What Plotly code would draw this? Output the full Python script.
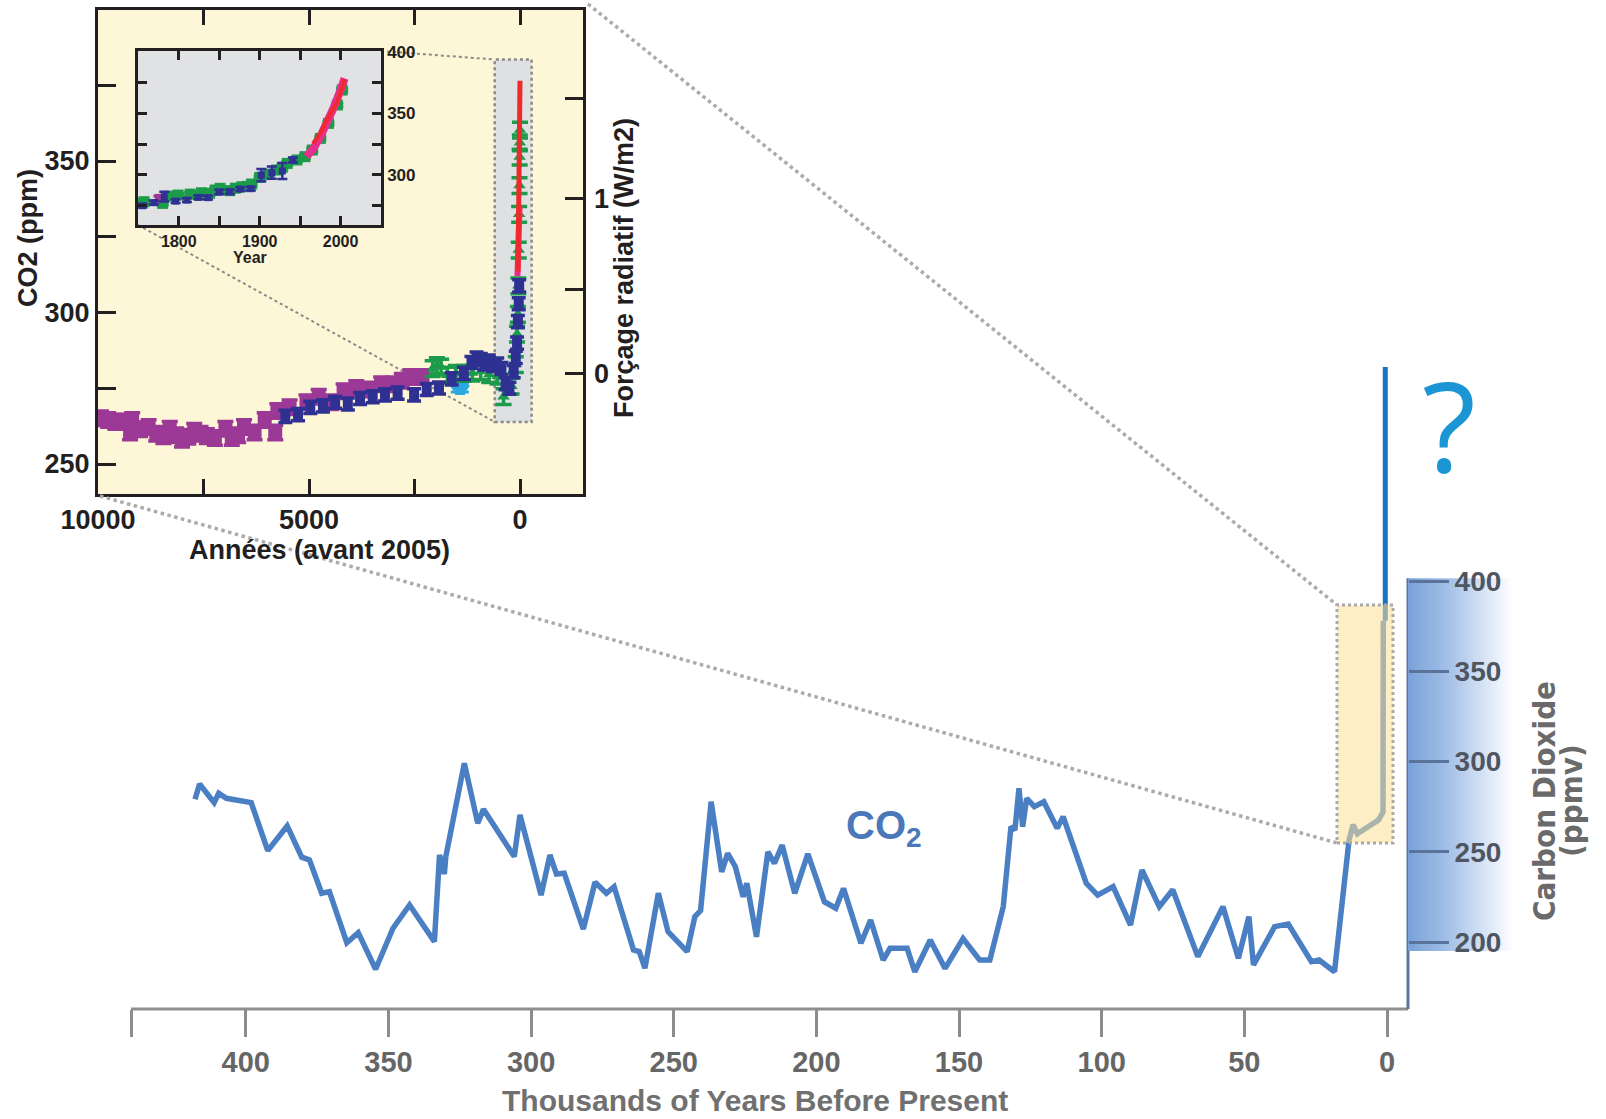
import math
import plotly.graph_objects as go

W, H = 1606, 1119

# ---------------- data ----------------
# Vostok ice core CO2, last ~420 kyr (thousands of years before present, ppmv)
vostok_kyr = [417.8, 416.2, 411.1, 409.5, 406.8, 398.1, 392.3, 385.5, 380.4, 377.7,
              373.4, 370.7, 364.6, 360.6, 354.5, 348.4, 342.6, 333.9, 332.1, 330.4,
              329.9, 323.4, 318.7, 316.7, 305.9, 303.9, 296.5, 293.4, 291.1, 288.4,
              281.7, 277.6, 273.6, 270.9, 264.1, 262.1, 260.1, 255.4, 252.0, 245.3,
              242.6, 240.6, 236.9, 233.2, 231.1, 228.4, 225.7, 224.4, 221.0, 217.0,
              214.7, 212.0, 207.6, 203.0, 197.2, 193.2, 190.5, 184.4, 181.0, 176.6,
              174.2, 168.2, 165.5, 160.1, 154.9, 148.6, 142.8, 139.2, 134.5, 131.8,
              130.4, 129.0, 127.7, 126.3, 123.6, 120.3, 115.6, 113.5, 105.4, 101.4,
              96.0, 89.9, 85.9, 79.8, 75.1, 66.3, 57.5, 52.1, 48.4, 46.8,
              39.4, 34.6, 26.5, 23.8, 18.4, 13.3, 11.9, 10.4, 3.0, 1.9,
              1.4, 1.3]
vostok_ppm = [279.1, 287.5, 277.2, 282.4, 279.6, 277.2, 250.6, 264.3, 247.0, 245.5,
              227.0, 227.9, 199.6, 205.2, 184.9, 207.6, 220.5, 200.2, 248.2, 237.7,
              247.3, 299.0, 265.8, 273.5, 247.3, 270.4, 226.0, 248.2, 237.7, 238.1,
              207.1, 233.1, 227.0, 230.6, 195.6, 194.7, 185.5, 227.0, 205.7, 194.7,
              214.1, 217.4, 277.7, 238.9, 249.1, 241.7, 225.1, 232.5, 202.9, 250.0,
              243.6, 253.7, 227.0, 248.8, 222.3, 218.7, 229.7, 199.3, 212.2, 190.0,
              196.5, 196.5, 183.5, 201.1, 185.4, 201.9, 190.0, 190.0, 219.6, 263.9,
              262.1, 285.2, 263.9, 279.6, 275.0, 277.7, 263.0, 269.4, 232.5, 226.0,
              230.7, 209.4, 239.9, 219.6, 228.9, 191.9, 219.6, 191.0, 214.1, 187.3,
              208.5, 210.0, 189.1, 190.0, 183.5, 256.5, 265.0, 260.0, 267.6, 271.4,
              272.0, 378.0]

# Future rise beyond today's level
future_kyr = [0.6, 0.6]
future_ppm = [378.0, 518.6]

# Main axis ticks
main_xticks = [400, 350, 300, 250, 200, 150, 100, 50, 0]
main_yticks = [200, 250, 300, 350, 400]

# Last 10000 years (years before 2005, ppm)
p_year = [9930, 9760, 9590, 9400, 9240, 9190, 9000, 8800, 8620, 8450, 8300, 8150,
          8010, 7860, 7720, 7570, 7420, 7230, 6980, 6830, 6680, 6540, 6290, 6050,
          5800, 5750, 5460, 5060, 4770, 4470, 4180, 3880, 3590, 3290, 3000, 2800,
          2600, 2310]
p_ppm = [265.1, 264.5, 263.9, 264.0, 260.4, 264.5, 261.5, 262.2, 260.0, 259.2, 261.6, 259.5,
         258.0, 259.0, 261.0, 260.0, 259.2, 258.6, 261.6, 258.6, 259.5, 262.2, 260.4, 264.5,
         260.4, 267.5, 268.7, 270.4, 272.2, 270.4, 274.0, 275.1, 274.6, 276.3, 276.3, 277.5,
         278.7, 278.7]

n_year = [5560, 5260, 4970, 4670, 4380, 4080, 3790, 3490, 3200, 2900, 2510, 2210,
          1920, 1620, 1330, 1150, 1030, 930, 840, 740, 640, 540, 440, 340, 250, 150,
          100, 70, 50, 30, 20]
n_ppm = [265.7, 266.3, 268.7, 269.2, 270.4, 269.8, 271.6, 272.2, 272.8, 273.4, 272.8, 274.6,
         275.1, 278.1, 279.9, 283.5, 285.0, 284.5, 283.0, 284.0, 282.5, 283.0, 281.5, 276.5,
         275.0, 280.5, 285.2, 289.9, 297.0, 302.9, 308.8]

g_year = [2070, 1970, 1870, 1720, 1520, 1330, 1130, 930, 730, 530, 390, 200, 100, 70,
          50, 40, 30, 20, 12, 8, 4, 0]
g_ppm = [281.5, 282.5, 282.0, 279.3, 279.9, 279.9, 280.0, 280.5, 279.5, 279.0, 272.2, 275.7,
         282.8, 292.9, 299.4, 308.8, 320.6, 332.4, 341.9, 351.3, 356.0, 360.2]

c_year = [1520, 1420, 1330]
c_ppm = [275.0, 274.5, 275.0]

pink_year = [60, 10]
pink_ppm = [312.0, 335.0]
red_year = [47, 0]
red_ppm = [313.5, 376.5]

# Radiative forcing ticks (W/m2), F = 5.35 ln(C / C0)
forcing_ticks = [0, 0.5, 1, 1.5]
forcing_labels = ["0", "", "1", ""]
forcing_c0 = 280.0

# 1750-2005 detail (year AD, ppm)
sg_year = [1751, 1757, 1780, 1788, 1799, 1814, 1828, 1838, 1845, 1851, 1863, 1870,
           1878, 1885, 1890, 1900, 1911, 1921, 1928, 1934, 1946, 1956, 1965, 1975,
           1985, 1996, 2002]
sg_ppm = [276.6, 278.0, 276.6, 282.5, 283.4, 284.2, 285.3, 284.8, 287.5, 288.9, 287.0, 289.0,
          290.2, 290.5, 292.4, 297.8, 300.5, 303.8, 306.0, 309.2, 312.0, 314.7, 320.1, 329.6,
          341.8, 356.8, 369.0]

sn_year = [1755, 1769, 1782, 1796, 1810, 1824, 1836, 1850, 1863, 1876, 1889, 1902,
           1915, 1928, 1941]
sn_ppm = [274.7, 277.2, 282.1, 278.5, 279.3, 281.5, 281.3, 285.9, 286.1, 288.3, 288.6,
          299.7, 301.6, 303.0, 312.0]
sn_err = [1.5, 1.5, 4.0, 1.5, 1.5, 1.5, 1.5, 1.8, 1.8, 1.5, 1.5, 5.0, 5.0, 6.5, 2.0]

sp_year = [1776]
sp_ppm = [280.7]

spink_year = [1958, 1966, 1975, 1983, 1992, 2000, 2005]
spink_ppm = [314.7, 321.0, 331.0, 341.8, 355.4, 369.0, 378.5]
sred_year = [1966, 1975, 1983, 1990, 1996, 2001, 2005]
sred_ppm = [325.5, 334.0, 344.6, 353.0, 359.5, 369.0, 377.7]

# ---------------- layout geometry (pixels) ----------------
def fx(p):
    return p / W


def fy(p):
    return 1 - p / H


# main chart calibration
M_X0, M_PXK = 1387.0, 2.853      # x pixel of 0 kyr, pixels per kyr
M_Y400, M_PXP = 581.0, 1.805     # y pixel of 400 ppm, pixels per ppm
M_LEFT, M_RIGHT, M_TOP, M_BOT = 131, 1560, 300, 1009
M_AXIS_X = 1408


def mpx(k):
    return M_X0 - k * M_PXK


def mpy(c):
    return M_Y400 + (400 - c) * M_PXP


def mk(px):
    return (M_X0 - px) / M_PXK


def mc(py):
    return 400 - (py - M_Y400) / M_PXP


main_xr = [mk(M_LEFT), mk(M_RIGHT)]
main_yr = [mc(M_BOT), mc(M_TOP)]

# 10000-year inset
I_LEFT, I_RIGHT, I_TOP, I_BOT = 98, 583, 10, 494
I_X0, I_PXY = 520.0, 0.0422      # pixel of year 0, px per year
I_Y350, I_PXP = 161.0, 3.03


def ipx(y):
    return I_X0 - y * I_PXY


def ipy(c):
    return I_Y350 + (350 - c) * I_PXP


ins_xr = [(I_X0 - I_LEFT) / I_PXY, (I_X0 - I_RIGHT) / I_PXY]
ins_yr = [350 - (I_BOT - I_Y350) / I_PXP, 350 + (I_Y350 - I_TOP) / I_PXP]

# 1750-2005 inset
S_LEFT, S_RIGHT, S_TOP, S_BOT = 138, 381, 51, 225
sm_xr = [1749.5, 2050.0]
sm_yr = [259.0, 400.8]

INK = "#231f20"
BOLD = "Liberation Sans, Arial, sans-serif"
NARROW = "Liberation Sans Narrow, DejaVu Sans Condensed, Arial Narrow, sans-serif"

fig = go.Figure()

# ---- main chart ----
band_x0 = mk(M_AXIS_X)
band_x1 = mk(1513)
band_y0 = min(main_yticks) - 5
band_y1 = max(main_yticks) + 1.5
fig.add_trace(go.Scatter(
    x=[band_x0, band_x1, band_x1, band_x0, band_x0],
    y=[band_y0, band_y0, band_y1, band_y1, band_y0],
    mode="lines", line=dict(width=0), fill="toself",
    fillgradient=dict(type="horizontal", start=band_x0, stop=band_x1,
                      colorscale=[[0, "#79a1d8"], [0.35, "#9fbde6"],
                                  [0.7, "#d3e1f4"], [1, "#ffffff"]]),
    hoverinfo="skip", showlegend=False, xaxis="x", yaxis="y"))

fig.add_trace(go.Scatter(
    x=vostok_kyr, y=vostok_ppm, mode="lines",
    line=dict(color="#4b7fc4", width=5.5),
    hoverinfo="skip", showlegend=False, xaxis="x", yaxis="y"))

fig.add_trace(go.Scatter(
    x=future_kyr, y=future_ppm, mode="lines",
    line=dict(color="#1874c4", width=5),
    hoverinfo="skip", showlegend=False, xaxis="x", yaxis="y"))

# ---- 10000-year inset ----
def err_pts(xs, ys, color, symbol, size, err, xa, ya, thick=3, capw=5):
    return go.Scatter(
        x=xs, y=ys, mode="markers",
        marker=dict(color=color, symbol=symbol, size=size, line=dict(width=0)),
        error_y=dict(type="constant", value=err, color=color,
                     thickness=thick, width=capw),
        hoverinfo="skip", showlegend=False, xaxis=xa, yaxis=ya)


fig.add_trace(err_pts(p_year, p_ppm, "#9c3896", "square", 14, 2.4, "x2", "y2", 3.5, 8))
fig.add_trace(err_pts(c_year, c_ppm, "#2aa9e0", "triangle-down", 11, 1.2, "x2", "y2"))
fig.add_trace(err_pts(g_year, g_ppm, "#1c9b4a", "triangle-up", 11, 2.6, "x2", "y2", 3.5, 8))
fig.add_trace(err_pts(n_year, n_ppm, "#2e3192", "square", 10, 2.0, "x2", "y2", 3.5, 7))
fig.add_trace(go.Scatter(x=pink_year, y=pink_ppm, mode="lines",
                         line=dict(color="#ea2d8d", width=6),
                         hoverinfo="skip", showlegend=False, xaxis="x2", yaxis="y2"))
fig.add_trace(go.Scatter(x=red_year, y=red_ppm, mode="lines",
                         line=dict(color="#ee2a2a", width=5),
                         hoverinfo="skip", showlegend=False, xaxis="x2", yaxis="y2"))
fig.add_trace(go.Scatter(x=[], y=[], xaxis="x2", yaxis="y4",
                         hoverinfo="skip", showlegend=False))

# ---- 1750-2005 inset ----
fig.add_trace(err_pts(sg_year, sg_ppm, "#1c9b4a", "square", 11, 1.4, "x3", "y3", 3, 6))
fig.add_trace(err_pts(sp_year, sp_ppm, "#9c3896", "square", 9, 2.0, "x3", "y3", 3, 6))
fig.add_trace(go.Scatter(
    x=sn_year, y=sn_ppm, mode="markers",
    marker=dict(color="#2e3192", symbol="square", size=7),
    error_y=dict(type="data", array=sn_err, color="#2e3192", thickness=2.5, width=5),
    hoverinfo="skip", showlegend=False, xaxis="x3", yaxis="y3"))
fig.add_trace(go.Scatter(x=spink_year, y=spink_ppm, mode="lines",
                         line=dict(color="#ea2d8d", width=8),
                         hoverinfo="skip", showlegend=False, xaxis="x3", yaxis="y3"))
fig.add_trace(go.Scatter(x=sred_year, y=sred_ppm, mode="lines",
                         line=dict(color="#ee2a2a", width=4),
                         hoverinfo="skip", showlegend=False, xaxis="x3", yaxis="y3"))

# ---------------- axes ----------------
common = dict(showgrid=False, zeroline=False, automargin=False)
tick_font_main = dict(family=BOLD, size=29, color="#666666", weight="bold")
fig.update_layout(
    xaxis=dict(domain=[fx(M_LEFT), fx(M_RIGHT)], range=main_xr, anchor="y",
               showline=False,
               ticks="outside", ticklen=27, tickwidth=3, tickcolor="#8c8c8c",
               tickvals=main_xticks + [main_xr[0] - 0.3],
               ticktext=[str(v) for v in main_xticks] + [" "],
               tickfont=tick_font_main, **common),
    yaxis=dict(domain=[fy(M_BOT), fy(M_TOP)], range=main_yr, anchor="free",
               position=fx(M_AXIS_X), side="right", showline=False,
               ticks="outside", ticklen=40, tickwidth=3, tickcolor="#5b7399",
               tickvals=main_yticks,
               tickfont=dict(family=BOLD, size=28, color="#4f5661", weight="bold"),
               **common),
    xaxis2=dict(domain=[fx(I_LEFT), fx(I_RIGHT)], range=ins_xr, anchor="y2",
                showline=True, linecolor=INK,
                linewidth=3, mirror="ticks", ticks="inside", ticklen=15,
                tickwidth=3, tickcolor=INK,
                tickvals=[0, 2500, 5000, 7500, 10000],
                ticktext=["0", " ", "5000", " ", "10000"],
                tickfont=dict(family=BOLD, size=27, color=INK, weight="bold"),
                **common),
    yaxis2=dict(domain=[fy(I_BOT), fy(I_TOP)], range=ins_yr, anchor="x2",
                showline=True, linecolor=INK,
                linewidth=3, mirror=True, ticks="inside", ticklen=18,
                tickwidth=3, tickcolor=INK,
                tickvals=[250, 275, 300, 325, 350, 375],
                ticktext=["250", " ", "300", " ", "350", " "],
                tickfont=dict(family=BOLD, size=27, color=INK, weight="bold"),
                **common),
    yaxis4=dict(overlaying="y2", anchor="x2", side="right", range=ins_yr,
                showline=False,
                ticks="inside", ticklen=18, tickwidth=3, tickcolor=INK,
                ticklabelstandoff=10,
                tickvals=[forcing_c0 * math.exp(f / 5.35) for f in forcing_ticks],
                ticktext=forcing_labels,
                tickfont=dict(family=BOLD, size=27, color=INK, weight="bold"),
                **common),
    xaxis3=dict(domain=[fx(S_LEFT), fx(S_RIGHT)], range=sm_xr, anchor="y3",
                showline=True, linecolor=INK,
                linewidth=2.5, mirror="ticks", ticks="inside", ticklen=9,
                tickwidth=2.5, tickcolor=INK,
                tickvals=[1800, 1850, 1900, 1950, 2000],
                ticktext=["1800", " ", "1900", " ", "2000"],
                tickfont=dict(family=BOLD, size=16, color=INK, weight="bold"),
                **common),
    yaxis3=dict(domain=[fy(S_BOT), fy(S_TOP)], range=sm_yr, anchor="x3",
                side="right", showline=True, linecolor=INK,
                linewidth=2.5, mirror="ticks", ticks="inside", ticklen=9,
                tickwidth=2.5, tickcolor=INK,
                tickvals=[275, 300, 325, 350, 375, 400],
                ticktext=[" ", "300", " ", "350", " ", "400"],
                tickfont=dict(family=BOLD, size=17, color=INK, weight="bold"),
                **common),
)

# ---------------- shapes ----------------
def pline(x0, y0, x1, y1, color, width, dash, layer):
    return dict(type="line", xref="paper", yref="paper",
                x0=fx(x0), y0=fy(y0), x1=fx(x1), y1=fy(y1),
                line=dict(color=color, width=width, dash=dash), layer=layer)


# zoom window on the main chart (last 10 kyr)
box_k0, box_k1 = mk(1337), mk(1393)
box_c0, box_c1 = mc(843), mc(605)

# grey window inside the 10000-year inset (1750-2005 period)
win_y0, win_y1 = 600, -275
win_c0, win_c1 = 263.9, 383.5

shapes = [
    dict(type="rect", xref="paper", yref="paper",
         x0=fx(I_LEFT), x1=fx(I_RIGHT), y0=fy(I_BOT), y1=fy(I_TOP),
         fillcolor="#fdf6d7", line=dict(width=0), layer="below"),
    dict(type="rect", xref="paper", yref="paper",
         x0=fx(S_LEFT), x1=fx(S_RIGHT), y0=fy(S_BOT), y1=fy(S_TOP),
         fillcolor="#e1e2e4", line=dict(width=0), layer="below"),
    pline(S_RIGHT, S_TOP, ipx(win_y0), ipy(win_c1), "#8a8a8a", 2, "dot", "below"),
    pline(S_LEFT, S_BOT, ipx(win_y0), ipy(win_c0), "#8a8a8a", 2, "dot", "below"),
    dict(type="rect", xref="x2", yref="y2", x0=win_y0, x1=win_y1,
         y0=win_c0, y1=win_c1, fillcolor="#dfe0e2",
         line=dict(color="#8a8a8a", width=2.5, dash="dot"), layer="below"),
    pline(M_LEFT, M_BOT, M_AXIS_X, M_BOT, "#8f8f8f", 3, "solid", "below"),
    pline(M_AXIS_X, M_BOT, M_AXIS_X, mpy(401.5), "#5b7399", 3, "solid", "below"),
    dict(type="rect", xref="x", yref="y", x0=box_k0, x1=box_k1,
         y0=box_c0, y1=box_c1, fillcolor="rgba(252,224,150,0.55)",
         line=dict(color="#a9a9a9", width=3, dash="dot"), layer="above"),
    pline(588, 4, mpx(box_k0), mpy(box_c1), "#ababab", 3.5, "dot", "above"),
    pline(100, 496, mpx(box_k0), mpy(box_c0), "#ababab", 3.5, "dot", "above"),
]


def note(text, x, y, size, color=INK, angle=0, family=BOLD, weight="bold"):
    return dict(text=text, xref="paper", yref="paper", x=fx(x), y=fy(y),
                xanchor="center", yanchor="middle", showarrow=False,
                textangle=angle,
                font=dict(family=family, size=size, color=color, weight=weight))


annotations = [
    note("CO2 (ppm)", 28, 238, 27, angle=-90),
    note("Forçage radiatif (W/m2)", 624, 268, 27, angle=-90),
    note("Années (avant 2005)", 319, 550, 27),
    note("Year", 250, 258, 16),
    note("Thousands of Years Before Present", 755, 1100, 30, color="#707070"),
    note("Carbon Dioxide", 1544, 801, 31, color="#6a6a6a", angle=-90, family=NARROW),
    note("(ppmv)", 1571, 801, 31, color="#6a6a6a", angle=-90, family=NARROW),
    note("CO<sub>2</sub>", 884, 828, 40, color="#4a78b8"),
    note("?", 1449, 424, 125, color="#1b95d3", family="Open Sans, Noto Sans, sans-serif",
         weight="normal"),
]

fig.update_layout(
    width=W, height=H, margin=dict(l=0, r=0, t=0, b=0, pad=0, autoexpand=False),
    paper_bgcolor="white", plot_bgcolor="rgba(0,0,0,0)",
    showlegend=False, shapes=shapes, annotations=annotations,
)

fig.write_html("out.html")
